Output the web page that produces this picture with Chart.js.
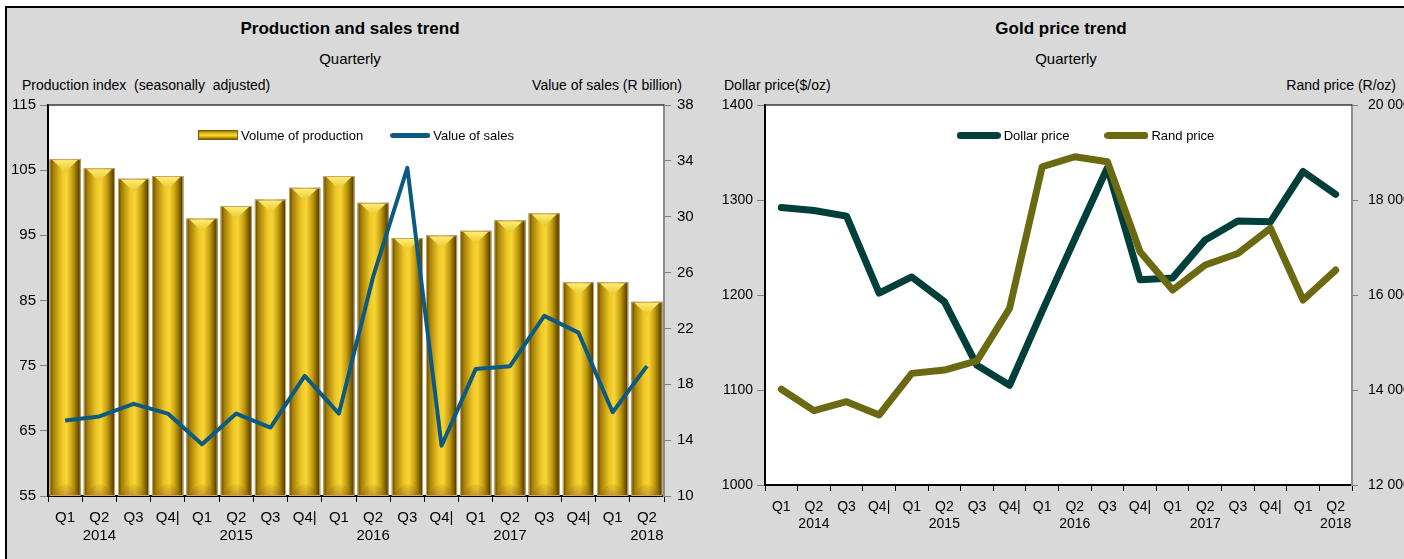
<!DOCTYPE html>
<html>
<head>
<meta charset="utf-8">
<script src="https://cdn.jsdelivr.net/npm/chart.js@4.4.1/dist/chart.umd.min.js"></script>
<style>
  body { margin: 0; width: 1404px; height: 559px; overflow: hidden; position: relative; background: #fff;
         font-family: 'Liberation Sans', Arial, sans-serif; color: #000; }
  #frame { position: absolute; left: 5px; top: 6px; width: 1399px; height: 553px; background: #d9d9d9;
           border-top: 2px solid #000; border-left: 2px solid #000; box-sizing: border-box; }
  canvas { position: absolute; }
  .txt { position: absolute; white-space: nowrap; line-height: 1; font-size: 14px; }
  .title { font-weight: bold; font-size: 17px; transform: translateX(-50%); }
  .mid { font-size: 15px; transform: translateX(-50%); }
  .right { transform: translateX(-100%); }
</style>
</head>
<body>
<div id="frame"></div>

<div class="txt title" style="left:350px; top:20px;">Production and sales trend</div>
<div class="txt mid" style="left:350px; top:51px;">Quarterly</div>
<div class="txt" style="left:22px; top:78px;">Production index&nbsp; (seasonally&nbsp; adjusted)</div>
<div class="txt right" style="left:682px; top:78px;">Value of sales (R billion)</div>

<div class="txt title" style="left:1061px; top:20px;">Gold price trend</div>
<div class="txt mid" style="left:1066px; top:51px;">Quarterly</div>
<div class="txt" style="left:724px; top:78px;">Dollar price($/oz)</div>
<div class="txt right" style="left:1396px; top:78px;">Rand price (R/oz)</div>

<canvas id="salesChart" width="693" height="551" style="left:7px; top:8px;"></canvas>
<canvas id="goldChart" width="704" height="551" style="left:700px; top:8px;"></canvas>

<script>
// quarters 2014 Q1 .. 2018 Q2
const quarters = ['Q1', 'Q2', 'Q3', 'Q4|', 'Q1', 'Q2', 'Q3', 'Q4|', 'Q1', 'Q2', 'Q3', 'Q4|',
                  'Q1', 'Q2', 'Q3', 'Q4|', 'Q1', 'Q2'];
const years = ['', '2014', '', '', '', '2015', '', '', '', '2016', '', '', '', '2017', '', '', '', '2018'];

// production index (seasonally adjusted) and value of sales (R billion)
const production = [106.7, 105.3, 103.7, 104.1, 97.6, 99.5, 100.5, 102.3, 104.1, 100.0,
                    94.6, 95.0, 95.7, 97.3, 98.4, 87.8, 87.8, 84.8];
const sales = [15.4, 15.7, 16.6, 15.9, 13.7, 15.9, 14.9, 18.6, 15.9, 25.7,
               33.5, 13.6, 19.1, 19.3, 22.9, 21.7, 16.0, 19.3];

// gold price: dollars per ounce and rand per ounce
const dollarPrice = [1292, 1289, 1283, 1202, 1219, 1193, 1126, 1105, 1183, 1259,
                     1334, 1216, 1218, 1258, 1278, 1277, 1330, 1306];
const randPrice = [14015, 13565, 13755, 13475, 14350, 14420, 14615, 15720, 18700, 18910,
                   18805, 16910, 16105, 16630, 16875, 17405, 15895, 16525];

const labels = quarters.map((q, i) => [q, years[i]]);

const FONT = "'Liberation Sans', Arial, sans-serif";
const SALES_BLUE = '#0d5a81';
const DOLLAR_GREEN = '#003f3a';
const RAND_OLIVE = '#6b6912';
const BAR_PCT = 0.91;

function goldStops(g) {
  g.addColorStop(0, '#5c4300');
  g.addColorStop(0.12, '#a57f06');
  g.addColorStop(0.4, '#eec727');
  g.addColorStop(0.55, '#f8d534');
  g.addColorStop(0.75, '#c39c0e');
  g.addColorStop(0.92, '#6e5303');
  g.addColorStop(1, '#3a2a00');
  return g;
}

function goldFill(ctx) {
  const chart = ctx.chart;
  const area = chart.chartArea;
  if (!area || ctx.dataIndex === undefined) return '#d2ab17';
  const x = chart.scales.x.getPixelForValue(ctx.dataIndex);
  const w = (area.right - area.left) / production.length * BAR_PCT;
  return goldStops(chart.ctx.createLinearGradient(x - w / 2, 0, x + w / 2, 0));
}

// small canvases used as legend symbols
function legendIcon(kind, color, w, h) {
  const c = document.createElement('canvas');
  c.width = w; c.height = h;
  const g = c.getContext('2d');
  if (kind === 'bar') {
    g.fillStyle = goldStops(g.createLinearGradient(0, 0, 0, h));
    g.fillRect(0, 0, w, h);
    g.strokeStyle = '#7a5c00';
    g.strokeRect(0.5, 0.5, w - 1, h - 1);
  } else {
    g.strokeStyle = color;
    g.lineWidth = h;
    g.lineCap = 'round';
    g.beginPath();
    g.moveTo(h / 2, h / 2);
    g.lineTo(w - h / 2, h / 2);
    g.stroke();
  }
  return c;
}

// legend drawn inside the top of the plot area
function insideLegend(icons, shift, spacing) {
  return {
    id: 'insideLegend',
    afterDatasetsDraw(chart) {
      const { ctx, chartArea: a } = chart;
      ctx.save();
      ctx.font = '13px ' + FONT;
      ctx.fillStyle = '#000';
      ctx.textBaseline = 'middle';
      const names = chart.data.datasets.map(ds => ds.label);
      const widths = names.map((t, i) => icons[i].width + 3 + ctx.measureText(t).width);
      const total = widths.reduce((s, w) => s + w, 0) + spacing * (names.length - 1);
      let x = (a.left + a.right) / 2 + shift - total / 2;
      const y = a.top + 30;
      names.forEach((t, i) => {
        ctx.drawImage(icons[i], x, Math.round(y - icons[i].height / 2));
        ctx.fillText(t, x + icons[i].width + 3, y + 1);
        x += widths[i] + spacing;
      });
      ctx.restore();
    }
  };
}

// white plot area, dark top edge
const plotFrame = {
  id: 'plotFrame',
  beforeDraw(chart) {
    const { ctx, chartArea: a } = chart;
    ctx.save();
    ctx.fillStyle = '#fff';
    ctx.fillRect(a.left, a.top, a.right - a.left, a.bottom - a.top);
    ctx.restore();
  },
  afterDraw(chart) {
    const { ctx, chartArea: a } = chart;
    ctx.save();
    ctx.strokeStyle = '#3a3a3a';
    ctx.lineWidth = 1.5;
    ctx.beginPath();
    ctx.moveTo(a.left, a.top);
    ctx.lineTo(a.right, a.top);
    ctx.stroke();
    ctx.restore();
  }
};

// bevelled caps on the gold bars
const barBevel = {
  id: 'barBevel',
  afterDatasetDraw(chart, args) {
    if (args.meta.type !== 'bar') return;
    const ctx = chart.ctx;
    const bottom = chart.chartArea.bottom;
    ctx.save();
    args.meta.data.forEach(bar => {
      const { x, y, width } = bar.getProps(['x', 'y', 'width'], true);
      const base = bottom - 1;
      const l = x - width / 2, r = x + width / 2;
      const top = ctx.createLinearGradient(0, y, 0, y + 13);
      top.addColorStop(0, '#fff07a');
      top.addColorStop(1, '#e9c52a');
      ctx.fillStyle = top;
      ctx.beginPath();
      ctx.moveTo(l + 3, y + 1);
      ctx.lineTo(r - 3, y + 1);
      ctx.lineTo(x, y + 13);
      ctx.closePath();
      ctx.fill();
      const bot = ctx.createLinearGradient(0, base - 14, 0, base);
      bot.addColorStop(0, 'rgba(160,110,20,0)');
      bot.addColorStop(1, 'rgba(150,100,30,0.45)');
      ctx.fillStyle = bot;
      ctx.beginPath();
      ctx.moveTo(l + 2, base);
      ctx.quadraticCurveTo(x, base - 22, r - 2, base);
      ctx.closePath();
      ctx.fill();
      ctx.strokeStyle = '#c9a66a';
      ctx.lineWidth = 1;
      ctx.strokeRect(l + 0.5, y + 0.5, width - 1, base - y);
    });
    ctx.restore();
  }
};

function fixWidth(w) { return scale => { scale.width = w; }; }
function fixHeight(h) { return scale => { scale.height = h; }; }
function spaced(v) { return String(v).replace(/\B(?=(\d{3})+(?!\d))/g, ' '); }

Chart.defaults.font.family = FONT;
Chart.defaults.color = '#000';

new Chart(document.getElementById('salesChart'), {
  type: 'bar',
  data: {
    labels: labels,
    datasets: [
      {
        label: 'Volume of production',
        data: production,
        yAxisID: 'y',
        backgroundColor: goldFill,
        barPercentage: BAR_PCT,
        categoryPercentage: 1,
        order: 1
      },
      {
        type: 'line',
        label: 'Value of sales',
        data: sales,
        yAxisID: 'y1',
        borderColor: SALES_BLUE,
        borderWidth: 4,
        borderJoinStyle: 'round',
        tension: 0,
        pointRadius: 0,
        order: 0
      }
    ]
  },
  options: {
    responsive: false,
    devicePixelRatio: 1,
    animation: false,
    layout: { padding: { top: 97, left: 0, right: 0, bottom: 0 } },
    plugins: {
      tooltip: { enabled: false },
      legend: { display: false }
    },
    scales: {
      x: {
        offset: true,
        grid: { offset: true, drawOnChartArea: false, tickLength: 6, color: '#000' },
        border: { color: '#000', width: 2 },
        ticks: { font: { size: 15 }, padding: 7, maxRotation: 0, autoSkip: false },
        afterFit: fixHeight(63)
      },
      y: {
        position: 'left',
        min: 55, max: 115,
        ticks: { stepSize: 10, font: { size: 15 }, padding: 4 },
        grid: { drawOnChartArea: false, tickLength: 8, color: '#7f7f7f' },
        border: { color: '#000', width: 2 },
        afterFit: fixWidth(41)
      },
      y1: {
        position: 'right',
        min: 10, max: 38,
        ticks: { stepSize: 4, font: { size: 15 }, padding: 6 },
        grid: { drawOnChartArea: false, tickLength: 7, color: '#7f7f7f' },
        border: { color: '#8c8c8c', width: 2 },
        afterFit: fixWidth(36)
      }
    }
  },
  plugins: [plotFrame, barBevel,
            insideLegend([legendIcon('bar', null, 40, 10), legendIcon('line', SALES_BLUE, 40, 5)], 0, 27)]
});

new Chart(document.getElementById('goldChart'), {
  type: 'line',
  data: {
    labels: labels,
    datasets: [
      {
        label: 'Dollar price',
        data: dollarPrice,
        yAxisID: 'y',
        borderColor: DOLLAR_GREEN,
        borderWidth: 7,
        borderJoinStyle: 'round',
        borderCapStyle: 'round',
        tension: 0,
        pointRadius: 0,
        order: 1
      },
      {
        label: 'Rand price',
        data: randPrice,
        yAxisID: 'y1',
        borderColor: RAND_OLIVE,
        borderWidth: 7,
        borderJoinStyle: 'round',
        borderCapStyle: 'round',
        tension: 0,
        pointRadius: 0,
        order: 0
      }
    ]
  },
  options: {
    responsive: false,
    devicePixelRatio: 1,
    animation: false,
    layout: { padding: { top: 97, left: 0, right: 0, bottom: 0 } },
    plugins: {
      tooltip: { enabled: false },
      legend: { display: false }
    },
    scales: {
      x: {
        offset: true,
        grid: { offset: true, drawOnChartArea: false, tickLength: 6, color: '#000' },
        border: { color: '#000', width: 2 },
        ticks: { font: { size: 14 }, padding: 8, maxRotation: 0, autoSkip: false },
        afterFit: fixHeight(74)
      },
      y: {
        position: 'left',
        min: 1000, max: 1400,
        ticks: { stepSize: 100, font: { size: 14 }, padding: 4, callback: v => String(v) },
        grid: { drawOnChartArea: false, tickLength: 8, color: '#7f7f7f' },
        border: { color: '#000', width: 2 },
        afterFit: fixWidth(65)
      },
      y1: {
        position: 'right',
        min: 12000, max: 20000,
        ticks: { stepSize: 2000, font: { size: 14 }, padding: 10, callback: v => spaced(v) },
        grid: { drawOnChartArea: false, tickLength: 6, color: '#7f7f7f' },
        border: { color: '#8c8c8c', width: 2 },
        afterFit: fixWidth(52)
      }
    }
  },
  plugins: [plotFrame,
            insideLegend([legendIcon('line', DOLLAR_GREEN, 44, 7), legendIcon('line', RAND_OLIVE, 44, 7)], 27, 35)]
});
</script>
</body>
</html>
